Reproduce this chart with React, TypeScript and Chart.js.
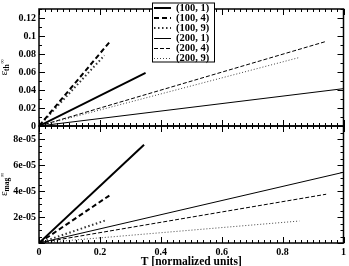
import React, { useEffect, useRef } from "react";
import { Chart, registerables } from "chart.js";
Chart.register(...registerables);

// ---- data ----
const seriesLabels = ["(100, 1)", "(100, 4)", "(100, 9)", "(200, 1)", "(200, 4)", "(200, 9)"];
// top panel: eps_th, end points of each (straight) curve starting at origin
const topEndT = [0.35, 0.231, 0.215, 1.0, 0.943, 0.857];
const topEndEps = [0.059, 0.093, 0.0785, 0.0415, 0.094, 0.0763];
// bottom panel: eps_mag
const botEndT = [0.345, 0.231, 0.216, 1.0, 0.943, 0.855];
const botEndEps = [7.55e-5, 3.65e-5, 1.72e-5, 5.44e-5, 3.75e-5, 1.69e-5];

const xTicks = [0, 0.2, 0.4, 0.6, 0.8, 1];
const topTicks = [0, 0.02, 0.04, 0.06, 0.08, 0.1, 0.12];
const botTicks = [2e-5, 4e-5, 6e-5, 8e-5];
const xTitle = "T [normalized units]";

// ---- styles ----
const widths = [2, 2, 2, 1, 1, 1];
const dashes: number[][] = [[], [5, 3], [1.5, 2.5], [], [4, 2], [1, 2]];
const colors = ["#000", "#000", "#333", "#000", "#000", "#444"];
const SERIF = "'Liberation Serif', 'Times New Roman', serif";

function fmtExp(v: number) {
  if (v === 0) return "0";
  const [m, e] = v.toExponential().split("e");
  const neg = e[0] === "-";
  const d = e.replace(/[+-]/, "").padStart(2, "0");
  return m + "e" + (neg ? "-" : "+") + d;
}

function drawYLabel(ctx: CanvasRenderingContext2D, cy: number, sub: string, sup: string) {
  ctx.save();
  ctx.translate(0, cy);
  ctx.rotate(-Math.PI / 2);
  ctx.fillStyle = "#000";
  const fE = `11px ${SERIF}`;
  const fSub = `bold 7.5px ${SERIF}`;
  const fSup = `bold 6px ${SERIF}`;
  ctx.font = fE;
  const wE = ctx.measureText("ε").width;
  ctx.font = fSub;
  const wS = ctx.measureText(sub).width;
  ctx.font = fSup;
  const wP = ctx.measureText(sup).width;
  const total = wE + wS + wP + 0.5;
  let u = -total / 2;
  ctx.textBaseline = "alphabetic";
  ctx.font = fE;
  ctx.fillText("ε", u, 7);
  u += wE;
  ctx.font = fSub;
  ctx.fillText(sub, u, 9);
  u += wS + 0.5;
  ctx.font = fSup;
  ctx.fillText(sup, u, 4);
  ctx.restore();
}

const framePlugin = {
  id: "frame",
  afterDatasetsDraw(chart: any) {
    const ctx: CanvasRenderingContext2D = chart.ctx;
    const xs = chart.scales.x;
    const { left, right } = chart.chartArea;
    const panels = [
      { s: chart.scales.yTop, max: 0.13, minor: 0.01, major: 0.02 },
      { s: chart.scales.yBot, max: 9e-5, minor: 5e-6, major: 2e-5 },
    ];
    ctx.save();
    ctx.strokeStyle = "#000";
    for (const p of panels) {
      const top = p.s.top;
      const bottom = p.s.bottom;
      ctx.lineWidth = 1;
      ctx.beginPath();
      for (let i = 0; i <= 50; i++) {
        const v = i * 0.02;
        const len = i % 10 === 0 ? 6 : 3;
        const px = Math.round(xs.getPixelForValue(v)) + 0.5;
        ctx.moveTo(px, bottom);
        ctx.lineTo(px, bottom - len);
        ctx.moveTo(px, top);
        ctx.lineTo(px, top + len);
      }
      const n = Math.round(p.max / p.minor);
      const per = Math.round(p.major / p.minor);
      for (let i = 0; i <= n; i++) {
        const v = i * p.minor;
        const len = i % per === 0 ? 6 : 3;
        const py = Math.round(p.s.getPixelForValue(v)) + 0.5;
        ctx.moveTo(left, py);
        ctx.lineTo(left + len, py);
        ctx.moveTo(right, py);
        ctx.lineTo(right - len, py);
      }
      ctx.stroke();
      ctx.lineWidth = 1.5;
      ctx.strokeRect(left, top, right - left, bottom - top);
    }
    ctx.restore();
  },
  afterDraw(chart: any) {
    const ctx: CanvasRenderingContext2D = chart.ctx;
    const yT = chart.scales.yTop;
    const yB = chart.scales.yBot;
    drawYLabel(ctx, (yT.top + yT.bottom) / 2, "th", "∞");
    drawYLabel(ctx, (yB.top + yB.bottom) / 2, "mag", "∞");

    // legend box
    const bx = 152, by = 2.5, bw = 63, bh = 60;
    ctx.save();
    ctx.fillStyle = "#fff";
    ctx.fillRect(bx, by, bw, bh);
    ctx.strokeStyle = "#000";
    ctx.lineWidth = 1;
    ctx.strokeRect(bx + 0.5, by + 0.5, bw - 1, bh - 1);
    const dsets = chart.data.datasets.slice(0, 6);
    dsets.forEach((d: any, i: number) => {
      const cy = by + 5.5 + i * 10;
      const off = d.borderWidth === 1 ? 0.5 : 0;
      ctx.beginPath();
      ctx.setLineDash(d.borderDash || []);
      ctx.lineWidth = d.borderWidth;
      ctx.strokeStyle = d.borderColor;
      ctx.moveTo(154, Math.round(cy) + off);
      ctx.lineTo(171, Math.round(cy) + off);
      ctx.stroke();
      ctx.setLineDash([]);
      ctx.fillStyle = "#000";
      ctx.font = `bold 10.5px ${SERIF}`;
      ctx.textBaseline = "middle";
      ctx.fillText(d.label, 176, cy + 0.5);
    });
    ctx.restore();
  },
};

export default function App() {
  const ref = useRef<HTMLCanvasElement>(null);
  useEffect(() => {
    document.body.style.margin = "0";
    const mk = (t: number[], e: number[], axis: string) =>
      seriesLabels.map((lab, i) => ({
        label: lab,
        data: [
          { x: 0, y: 0 },
          { x: t[i], y: e[i] },
        ],
        yAxisID: axis,
        borderColor: colors[i],
        borderWidth: widths[i],
        borderDash: dashes[i],
        pointRadius: 0,
        fill: false,
        tension: 0,
        showLine: true,
      }));
    const tickFont = { family: SERIF, weight: "bold" as const, size: 10 };
    const chart = new Chart(ref.current!, {
      type: "scatter",
      data: {
        datasets: [...mk(topEndT, topEndEps, "yTop"), ...mk(botEndT, botEndEps, "yBot")] as any,
      },
      plugins: [framePlugin as any],
      options: {
        animation: false,
        responsive: false,
        events: [],
        layout: { padding: { top: 2, right: 2, left: 0, bottom: 0 } },
        plugins: { legend: { display: false }, tooltip: { enabled: false } },
        scales: {
          x: {
            type: "linear",
            min: 0,
            max: 1,
            grid: { display: false, drawTicks: false },
            border: { display: false },
            afterBuildTicks: (s: any) => {
              s.ticks = xTicks.map((v) => ({ value: v }));
            },
            afterFit: (s: any) => {
              s.height = 23;
            },
            ticks: { font: tickFont, color: "#000", padding: 3, maxRotation: 0, autoSkip: false, callback: (v: any) => String(v) },
            title: {
              display: true,
              text: xTitle,
              color: "#000",
              font: { family: SERIF, weight: "bold", size: 11.5 },
              padding: { top: 0, bottom: -3 },
            },
          },
          yBot: {
            type: "linear",
            position: "left",
            stack: "v",
            stackWeight: 1,
            min: 0,
            max: 9e-5,
            grid: { display: false, drawTicks: false },
            border: { display: false },
            afterBuildTicks: (s: any) => {
              s.ticks = botTicks.map((v) => ({ value: v }));
            },
            afterFit: (s: any) => {
              s.width = 39;
            },
            ticks: { font: tickFont, color: "#000", padding: 3, autoSkip: false, callback: (v: any) => fmtExp(Number(v)) },
          },
          yTop: {
            type: "linear",
            position: "left",
            stack: "v",
            stackWeight: 1,
            min: 0,
            max: 0.13,
            grid: { display: false, drawTicks: false },
            border: { display: false },
            afterBuildTicks: (s: any) => {
              s.ticks = topTicks.map((v) => ({ value: v }));
            },
            afterFit: (s: any) => {
              s.width = 39;
            },
            ticks: { font: tickFont, color: "#000", padding: 3, autoSkip: false, callback: (v: any) => String(v) },
          },
        },
      } as any,
    });
    return () => chart.destroy();
  }, []);
  return (
    <div style={{ position: "fixed", left: 0, top: 0, width: 349, height: 266, background: "#fff" }}>
      <canvas ref={ref} width={349} height={266} />
    </div>
  );
}
